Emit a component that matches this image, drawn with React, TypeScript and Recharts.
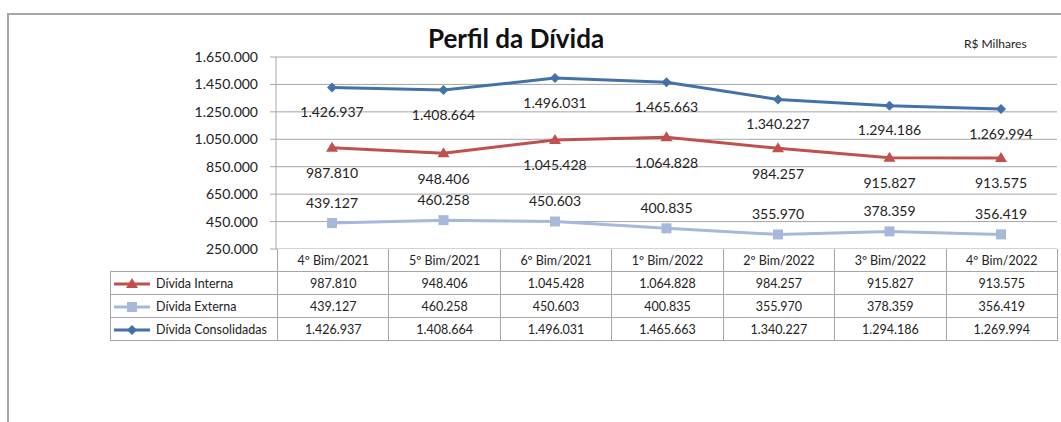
import React from "react";
import { LineChart, Line, XAxis, YAxis, CartesianGrid } from "recharts";

const categories = [
  "4º Bim/2021",
  "5º Bim/2021",
  "6º Bim/2021",
  "1º Bim/2022",
  "2º Bim/2022",
  "3º Bim/2022",
  "4º Bim/2022",
];
const dividaInterna = [987810, 948406, 1045428, 1064828, 984257, 915827, 913575];
const dividaExterna = [439127, 460258, 450603, 400835, 355970, 378359, 356419];
const dividaConsolidadas = [1426937, 1408664, 1496031, 1465663, 1340227, 1294186, 1269994];
const yTicks = [250000, 450000, 650000, 850000, 1050000, 1250000, 1450000, 1650000];

const RED = "#C0504D";
const LIGHT = "#A7B9DA";
const BLUE = "#4471A9";
const GRID = "#A6A6A6";
const FONT = "Lato, 'Liberation Sans', sans-serif";

const fmt = (v: number) => String(v).replace(/\B(?=(\d{3})+(?!\d))/g, ".");

const data = categories.map((c, i) => ({
  name: c,
  interna: dividaInterna[i],
  externa: dividaExterna[i],
  consolidadas: dividaConsolidadas[i],
}));

const series = [
  { key: "interna", label: "Dívida Interna", color: RED, shape: "triangle", values: dividaInterna },
  { key: "externa", label: "Dívida Externa", color: LIGHT, shape: "square", values: dividaExterna },
  { key: "consolidadas", label: "Dívida Consolidadas", color: BLUE, shape: "diamond", values: dividaConsolidadas },
];

function marker(shape: string, cx: number, cy: number, color: string, key?: string | number) {
  if (shape === "triangle")
    return <polygon key={key} points={`${cx},${cy - 6} ${cx + 6},${cy + 4} ${cx - 6},${cy + 4}`} fill={color} />;
  if (shape === "square")
    return <rect key={key} x={cx - 5} y={cy - 5} width={10} height={10} fill={color} />;
  return <polygon key={key} points={`${cx},${cy - 5} ${cx + 5},${cy} ${cx},${cy + 5} ${cx - 5},${cy}`} fill={color} />;
}

const makeDot = (shape: string, color: string) => (p: any) =>
  marker(shape, p.cx, p.cy, color, p.index);

const makeLabel = (dy: number) => (p: any) => (
  <text
    key={p.index}
    x={p.x}
    y={p.y + dy}
    textAnchor="middle"
    dominantBaseline="central"
    fontSize={14}
    fontFamily={FONT}
    fill="#222"
  >
    {fmt(p.value)}
  </text>
);

const cell: React.CSSProperties = {
  border: `1px solid ${GRID}`,
  textAlign: "center",
  padding: 0,
  height: 22,
  fontSize: 12.5,
};

export default function App() {
  return (
    <div
      style={{
        position: "absolute",
        left: 0,
        top: 0,
        width: 1061,
        height: 422,
        background: "#fff",
        fontFamily: FONT,
        color: "#222",
        overflow: "hidden",
      }}
    >
      <div
        style={{
          position: "absolute",
          left: 7,
          top: 13,
          width: 1070,
          height: 420,
          borderTop: "2px solid #A6A6A6",
          borderLeft: "2px solid #A6A6A6",
        }}
      />
      <div
        style={{
          position: "absolute",
          left: 0,
          width: 1032,
          top: 22,
          textAlign: "center",
          fontSize: 26,
          fontWeight: 700,
          color: "#111",
        }}
      >
        Perfil da Dívida
      </div>
      <div style={{ position: "absolute", left: 964, top: 36, fontSize: 12, color: "#222" }}>R$ Milhares</div>

      <div style={{ position: "absolute", left: 0, top: 0 }}>
        <LineChart
          width={1061}
          height={262}
          data={data}
          margin={{ top: 57, right: 4, bottom: 13, left: 0 }}
        >
          <CartesianGrid vertical={false} stroke={GRID} />
          <XAxis dataKey="name" hide padding={{ left: 56, right: 56 }} />
          <YAxis
            width={276}
            domain={[250000, 1650000]}
            ticks={yTicks}
            tickFormatter={fmt}
            tickSize={6}
            tickMargin={12}
            tickLine={{ stroke: GRID }}
            axisLine={{ stroke: GRID }}
            tick={{ fontSize: 14, fill: "#222", fontFamily: FONT }}
            interval={0}
          />
          <Line
            dataKey="consolidadas"
            stroke={BLUE}
            strokeWidth={3}
            dot={makeDot("diamond", BLUE)}
            label={makeLabel(24)}
            isAnimationActive={false}
          />
          <Line
            dataKey="interna"
            stroke={RED}
            strokeWidth={3}
            dot={makeDot("triangle", RED)}
            label={makeLabel(25)}
            isAnimationActive={false}
          />
          <Line
            dataKey="externa"
            stroke={LIGHT}
            strokeWidth={3}
            dot={makeDot("square", LIGHT)}
            label={makeLabel(-21)}
            isAnimationActive={false}
          />
        </LineChart>
      </div>

      <table
        style={{
          position: "absolute",
          left: 110,
          top: 249,
          width: 948,
          borderCollapse: "collapse",
          tableLayout: "fixed",
          fontFamily: FONT,
          color: "#222",
        }}
      >
        <colgroup>
          <col style={{ width: 167 }} />
          {categories.map((c) => (
            <col key={c} />
          ))}
        </colgroup>
        <tbody>
          <tr>
            <td style={{ ...cell, border: "none", borderRight: `1px solid ${GRID}` }} />
            {categories.map((c) => (
              <td key={c} style={{ ...cell, borderTop: "none", background: "#fff" }}>
                {c}
              </td>
            ))}
          </tr>
          {series.map((s) => (
            <tr key={s.key} style={{ background: "#fff" }}>
              <td style={{ ...cell, textAlign: "left", whiteSpace: "nowrap" }}>
                <svg width={38} height={12} style={{ verticalAlign: "middle", marginLeft: 2, marginRight: 5 }}>
                  <line x1={1} y1={6} x2={37} y2={6} stroke={s.color} strokeWidth={3} />
                  {marker(s.shape, 19, 6, s.color)}
                </svg>
                {s.label}
              </td>
              {s.values.map((v, i) => (
                <td key={i} style={cell}>
                  {fmt(v)}
                </td>
              ))}
            </tr>
          ))}
        </tbody>
      </table>
    </div>
  );
}
